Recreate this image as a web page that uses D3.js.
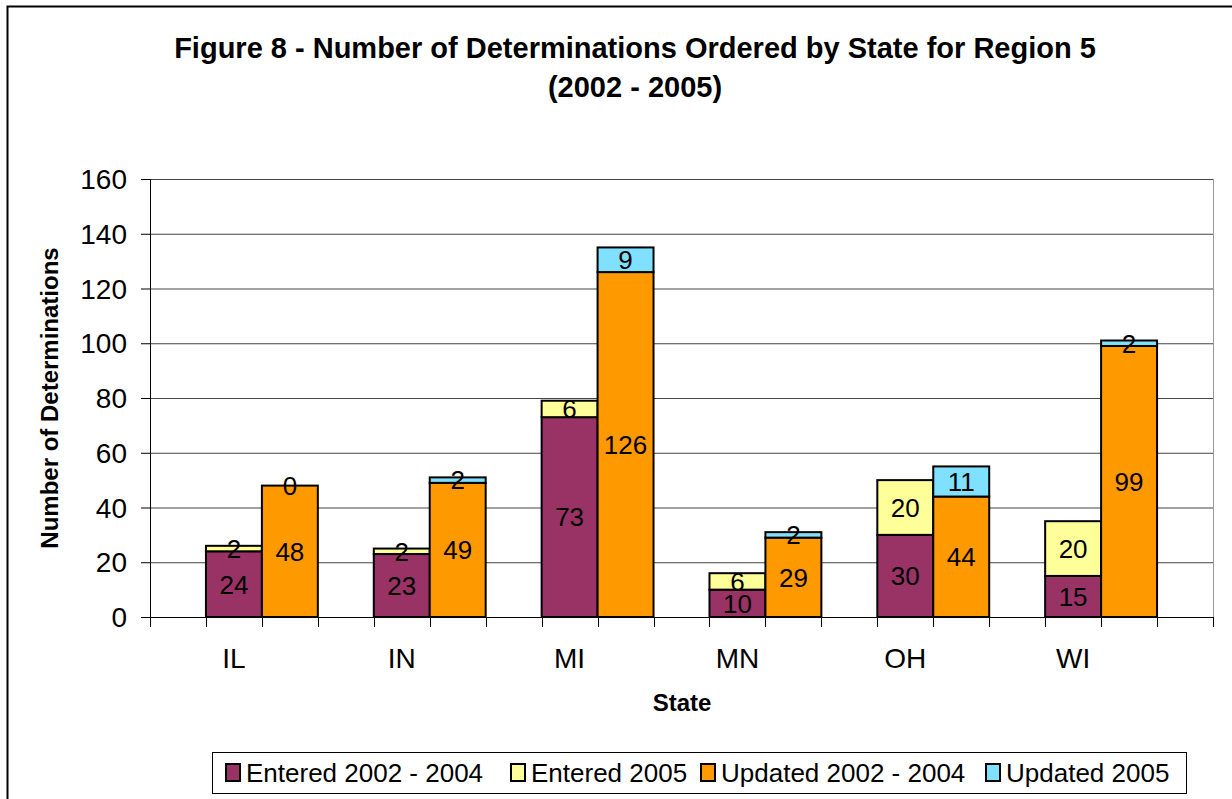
<!DOCTYPE html>
<html>
<head>
<meta charset="utf-8">
<script src="https://cdn.jsdelivr.net/npm/d3@7"></script>
<style>
  body { margin: 0; background: #fff; }
  text { font-family: "Liberation Sans", Arial, sans-serif; }
</style>
</head>
<body>
<div id="chart"></div>
<script>
const states = ["IL", "IN", "MI", "MN", "OH", "WI"];
const entered0204 = [24, 23, 73, 10, 30, 15];
const entered2005 = [2, 2, 6, 6, 20, 20];
const updated0204 = [48, 49, 126, 29, 44, 99];
const updated2005 = [0, 2, 9, 2, 11, 2];
const yTicks = [0, 20, 40, 60, 80, 100, 120, 140, 160];
const legendLabels = ["Entered 2002 - 2004", "Entered 2005", "Updated 2002 - 2004", "Updated 2005"];
const colors = ["#993366", "#FFFF99", "#FF9900", "#80E0FF"];

const width = 1232, height = 799;
const plotLeft = 150, plotRight = 1213, plotTop = 179, plotBottom = 617;

const svg = d3.select("#chart").append("svg")
  .attr("width", width).attr("height", height);

// outer frame
svg.append("rect")
  .attr("x", 7.5).attr("y", 6.5)
  .attr("width", 1240).attr("height", 820)
  .attr("fill", "none").attr("stroke", "#000").attr("stroke-width", 2);

// slots: blank, then E, U, blank for each state
let slots = ["s0"];
states.forEach(s => { slots.push(s + "-E", s + "-U", s + "-gap"); });

const x = d3.scaleBand().domain(slots).range([plotLeft, plotRight]).padding(0);
const y = d3.scaleLinear().domain([0, 160]).range([plotBottom, plotTop]);

// gridlines
svg.append("g").selectAll("line")
  .data(yTicks.slice(1))
  .enter().append("line")
  .attr("x1", plotLeft).attr("x2", plotRight)
  .attr("y1", d => y(d) + 0.5).attr("y2", d => y(d) + 0.5)
  .attr("stroke", "#444").attr("stroke-width", 1);

// right edge of plot area
svg.append("line")
  .attr("x1", plotRight + 0.5).attr("x2", plotRight + 0.5)
  .attr("y1", plotTop).attr("y2", plotBottom)
  .attr("stroke", "#999").attr("stroke-width", 1);

// stacked data
let bars = [];
states.forEach((s, i) => {
  bars.push({ slot: s + "-E", parts: [
    { v: entered0204[i], c: colors[0] }, { v: entered2005[i], c: colors[1] }] });
  bars.push({ slot: s + "-U", parts: [
    { v: updated0204[i], c: colors[2] }, { v: updated2005[i], c: colors[3] }] });
});

let segs = [];
bars.forEach(b => {
  let base = 0;
  b.parts.forEach(p => {
    segs.push({ slot: b.slot, y0: base, y1: base + p.v, v: p.v, c: p.c });
    base += p.v;
  });
});

svg.append("g").selectAll("rect")
  .data(segs)
  .enter().append("rect")
  .attr("x", d => x(d.slot))
  .attr("width", x.bandwidth())
  .attr("y", d => y(d.y1))
  .attr("height", d => y(d.y0) - y(d.y1))
  .attr("fill", d => d.c)
  .attr("stroke", "#000").attr("stroke-width", 2);

svg.append("g").selectAll("text")
  .data(segs)
  .enter().append("text")
  .attr("x", d => x(d.slot) + x.bandwidth() / 2)
  .attr("y", d => y((d.y0 + d.y1) / 2))
  .attr("dy", "0.36em")
  .attr("text-anchor", "middle")
  .style("font-size", "26px")
  .attr("fill", "#000")
  .text(d => d.v);

// axes
svg.append("line")
  .attr("x1", plotLeft + 0.5).attr("x2", plotLeft + 0.5)
  .attr("y1", plotTop).attr("y2", plotBottom)
  .attr("stroke", "#000").attr("stroke-width", 1);
svg.append("line")
  .attr("x1", plotLeft - 9).attr("x2", plotRight)
  .attr("y1", plotBottom + 0.5).attr("y2", plotBottom + 0.5)
  .attr("stroke", "#000").attr("stroke-width", 1);

const yAxis = svg.append("g");
yAxis.selectAll("line")
  .data(yTicks).enter().append("line")
  .attr("x1", plotLeft - 9).attr("x2", plotLeft)
  .attr("y1", d => y(d) + 0.5).attr("y2", d => y(d) + 0.5)
  .attr("stroke", "#000");
yAxis.selectAll("text")
  .data(yTicks).enter().append("text")
  .attr("x", 127).attr("y", d => y(d))
  .attr("dy", "0.36em")
  .attr("text-anchor", "end")
  .style("font-size", "28px")
  .text(d => d);

// x ticks at slot boundaries
const bounds = slots.map(s => x(s)).concat([plotRight]);
svg.append("g").selectAll("line")
  .data(bounds).enter().append("line")
  .attr("x1", d => Math.round(d) + 0.5).attr("x2", d => Math.round(d) + 0.5)
  .attr("y1", plotBottom).attr("y2", plotBottom + 10)
  .attr("stroke", "#000");

svg.append("g").selectAll("text")
  .data(states).enter().append("text")
  .attr("x", d => x(d + "-E") + x.bandwidth() / 2)
  .attr("y", 668)
  .attr("text-anchor", "middle")
  .style("font-size", "28px")
  .text(d => d);

// titles
svg.append("text")
  .attr("x", 635).attr("y", 58)
  .attr("text-anchor", "middle")
  .style("font-size", "29px").style("font-weight", "bold")
  .text("Figure 8 - Number of Determinations Ordered by State for Region 5");
svg.append("text")
  .attr("x", 635).attr("y", 97)
  .attr("text-anchor", "middle")
  .style("font-size", "29px").style("font-weight", "bold")
  .text("(2002 - 2005)");

svg.append("text")
  .attr("x", 682).attr("y", 711)
  .attr("text-anchor", "middle")
  .style("font-size", "24px").style("font-weight", "bold")
  .text("State");

svg.append("text")
  .attr("transform", "translate(58,398) rotate(-90)")
  .attr("text-anchor", "middle")
  .style("font-size", "24px").style("font-weight", "bold")
  .text("Number of Determinations");

// legend
const legend = svg.append("g");
legend.append("rect")
  .attr("x", 212.5).attr("y", 752.5)
  .attr("width", 974).attr("height", 41)
  .attr("fill", "#fff").attr("stroke", "#000").attr("stroke-width", 1);

const legX = [246, 531, 721, 1006];
legendLabels.forEach((lab, i) => {
  legend.append("rect")
    .attr("x", legX[i] - 20).attr("y", 764)
    .attr("width", 14).attr("height", 17)
    .attr("fill", colors[i]).attr("stroke", "#000").attr("stroke-width", 2);
  legend.append("text")
    .attr("x", legX[i]).attr("y", 773)
    .attr("dy", "0.36em")
    .style("font-size", "26px")
    .text(lab);
});
</script>
</body>
</html>
